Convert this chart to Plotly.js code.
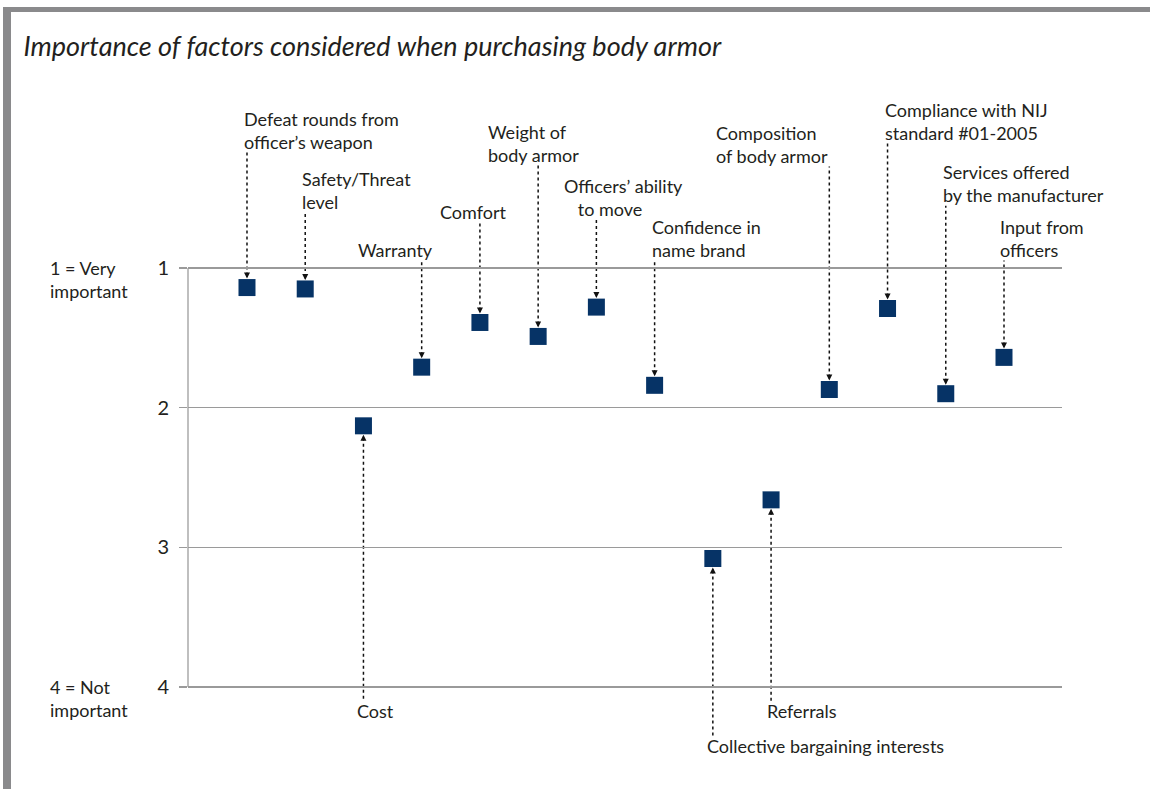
<!DOCTYPE html>
<html>
<head>
<meta charset="utf-8">
<script src="https://cdn.plot.ly/plotly-3.0.1.min.js"></script>
<style>
  html, body { margin: 0; padding: 0; background: #fff; }
  #chart { width: 1150px; height: 789px; }
  #frame { position: absolute; left: 3px; top: 7px; width: 1147px; height: 782px;
           border-top: 5px solid #8a8a8c; border-left: 8px solid #8a8a8c;
           box-sizing: border-box; pointer-events: none; }
</style>
</head>
<body>
<div id="chart"></div>
<div id="frame"></div>
<script>
// ---- data ----
const categories = [
  "Defeat rounds from officer’s weapon",
  "Safety/Threat level",
  "Cost",
  "Warranty",
  "Comfort",
  "Weight of body armor",
  "Officers’ ability to move",
  "Confidence in name brand",
  "Collective bargaining interests",
  "Referrals",
  "Composition of body armor",
  "Compliance with NIJ standard #01-2005",
  "Services offered by the manufacturer",
  "Input from officers"
];
const importance = [1.14, 1.15, 2.13, 1.71, 1.39, 1.49, 1.28, 1.84, 3.08, 2.66, 1.87, 1.29, 1.90, 1.64];
const labelText = [
  "Defeat rounds from<br>officer’s weapon",
  "Safety/Threat<br>level",
  "Cost",
  "Warranty",
  "Comfort",
  "Weight of<br>body armor",
  "Officers’ ability<br>\u00a0\u00a0\u00a0to move",
  "Confidence in<br>name brand",
  "Collective bargaining interests",
  "Referrals",
  "Composition<br>of body armor",
  "Compliance with NIJ<br>standard #01-2005",
  "Services offered<br>by the manufacturer",
  "Input from<br>officers"
];
const yTickVals = [1, 2, 3, 4];
const yTickText = ["1", "2", "3", "4"];
const scaleTop = "1 = Very<br>important";
const scaleBottom = "4 = Not<br>important";
const chartTitle = "Importance of factors considered when purchasing body armor";

// ---- label layout (pixels) ----
const labelAbove = [true, true, false, true, true, true, true, true, false, false, true, true, true, true];
const labelDx    = [-5, -5, -8, -66, -42, -52, -34, -5, -8, -6, -115, -5, -5, -6];
const labelGap   = [145, 86, 285, 117, 110, 181, 98, 135, 187, 211, 233, 175, 198, 107];

const FONT = "Lato, 'Open Sans', sans-serif";
const TXT = "#231f20";
const FS = 18;
const edge = 12.5;

const annotations = [];
const shapes = [];

categories.forEach((c, i) => {
  const up = labelAbove[i];
  const s = up ? 1 : -1;
  annotations.push({
    x: c, y: importance[i], xref: "x", yref: "y",
    text: labelText[i], showarrow: false, align: "left",
    xanchor: "left", yanchor: up ? "bottom" : "top",
    xshift: labelDx[i], yshift: s * (labelGap[i] - edge),
    font: { family: FONT, size: FS, color: TXT }
  });
  annotations.push({
    x: c, y: importance[i], xref: "x", yref: "y",
    text: "", showarrow: true, arrowhead: 2, arrowsize: 1, arrowwidth: 1.2,
    arrowcolor: "#111", ax: 0, ay: -s * 15, standoff: 9
  });
  shapes.push({
    type: "line", xref: "x", yref: "y", ysizemode: "pixel", yanchor: importance[i],
    x0: c, x1: c, y0: s * 12, y1: s * (labelGap[i] - 10),
    line: { color: "#111", width: 1.5, dash: "dot" }, layer: "below"
  });
});

annotations.push({
  xref: "paper", yref: "y", x: 0, y: yTickVals[0], xshift: -140, yshift: 13,
  xanchor: "left", yanchor: "top", align: "left", showarrow: false,
  text: scaleTop, font: { family: FONT, size: FS, color: TXT }
});
annotations.push({
  xref: "paper", yref: "y", x: 0, y: yTickVals[yTickVals.length - 1], xshift: -140, yshift: 13,
  xanchor: "left", yanchor: "top", align: "left", showarrow: false,
  text: scaleBottom, font: { family: FONT, size: FS, color: TXT }
});

// vertical axis line spanning the scale
shapes.push({
  type: "line", xref: "paper", yref: "y", x0: 0, x1: 0,
  y0: yTickVals[0], y1: yTickVals[yTickVals.length - 1],
  line: { color: "#aaaaaa", width: 1.5 }, layer: "below"
});

const trace = {
  type: "scatter", mode: "markers",
  x: categories, y: importance,
  marker: { symbol: "square", size: 17, color: "#063366" },
  hoverinfo: "x+y", cliponaxis: false
};

const layout = {
  width: 1150, height: 789,
  margin: { l: 188, r: 88, t: 100, b: 19 },
  paper_bgcolor: "#fff", plot_bgcolor: "#fff",
  showlegend: false,
  title: {
    text: "<i>" + chartTitle + "</i>",
    xref: "container", yref: "container", x: 0.0205, y: 0.9415,
    xanchor: "left", yanchor: "middle",
    font: { family: FONT, size: 27, color: TXT }
  },
  xaxis: {
    type: "category", categoryorder: "array", categoryarray: categories,
    range: [-1.013, 13.996], showgrid: false, zeroline: false,
    showline: false, showticklabels: false, ticks: "", fixedrange: true
  },
  yaxis: {
    range: [4.5943, -0.2029], tickmode: "array", tickvals: yTickVals, ticktext: yTickText,
    showgrid: true, gridcolor: "#9a9a9a", gridwidth: 1.5, zeroline: false,
    showline: false, ticks: "outside", ticklen: 8, tickcolor: "#9a9a9a", tickwidth: 1.5,
    ticklabelstandoff: 6,
    tickfont: { family: FONT, size: 20, color: TXT }, fixedrange: true
  },
  annotations: annotations,
  shapes: shapes
};

Plotly.newPlot("chart", [trace], layout, { displayModeBar: false, staticPlot: true });
</script>
</body>
</html>
